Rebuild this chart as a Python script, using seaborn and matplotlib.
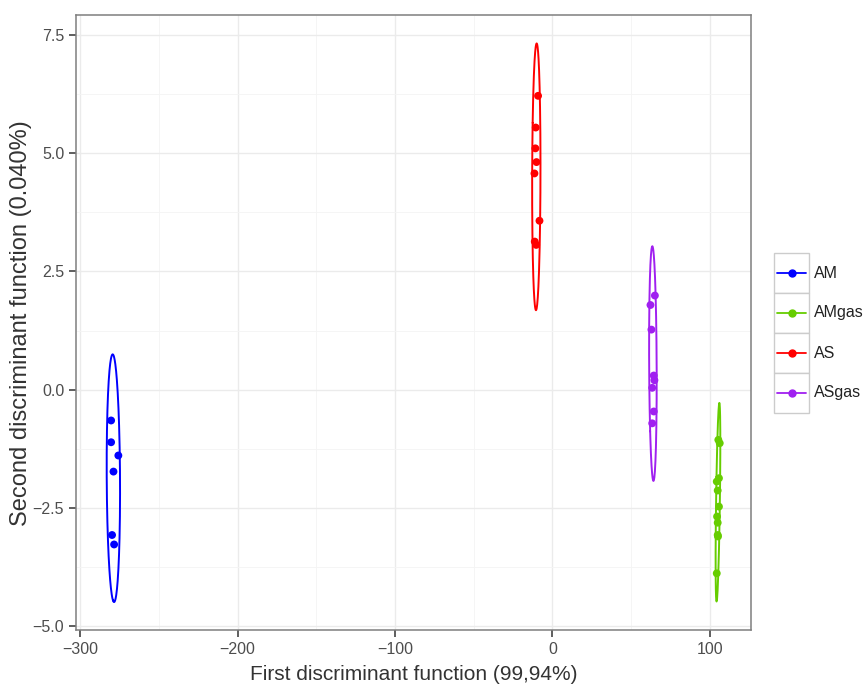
import numpy as np
import pandas as pd
import matplotlib
matplotlib.use("Agg")
import matplotlib.pyplot as plt
from matplotlib.patches import Rectangle
from matplotlib.ticker import MultipleLocator, FuncFormatter
import seaborn as sns

# Group labels and the scores
groups = ["AM", "AMgas", "AS", "ASgas"]
colors = ["#0000FF", "#66CD00", "#FF0000", "#A020F0"]

am_x = [-280.3, -280.3, -275.7, -278.8, -279.7, -278.4]
am_y = [-0.65, -1.11, -1.39, -1.73, -3.07, -3.27]
amgas_x = [105.4, 106.3, 104.4, 105.8, 105.0, 105.8, 104.6, 105.0, 105.0, 105.2, 104.4]
amgas_y = [-1.06, -1.13, -1.94, -1.87, -2.13, -2.47, -2.68, -2.81, -3.07, -3.10, -3.88]
as_x = [-9.1, -10.6, -10.8, -10.1, -11.4, -8.2, -11.2, -10.3]
as_y = [6.21, 5.54, 5.10, 4.81, 4.57, 3.57, 3.13, 3.06]
asgas_x = [65.1, 62.3, 62.9, 64.4, 64.8, 63.4, 64.4, 63.4]
asgas_y = [1.99, 1.79, 1.27, 0.30, 0.20, 0.04, -0.46, -0.71]

xs = [am_x, amgas_x, as_x, asgas_x]
ys = [am_y, amgas_y, as_y, asgas_y]

x_title = "First discriminant function (99,94%)"
y_title = "Second discriminant function (0.040%)"

df = pd.concat([pd.DataFrame({"LD1": x, "LD2": y, "group": g})
                for g, x, y in zip(groups, xs, ys)], ignore_index=True)
palette = dict(zip(groups, colors))


# 95% normal data ellipse for each group
def ellipse(x, y, level=0.95, n=200):
    pts = np.column_stack([x, y])
    center = pts.mean(axis=0)
    cov = np.cov(pts, rowvar=False)
    r = np.sqrt(-2 * np.log(1 - level))
    vals, vecs = np.linalg.eigh(cov)
    t = np.linspace(0, 2 * np.pi, n)
    circ = np.column_stack([np.cos(t), np.sin(t)]) * np.sqrt(vals) * r
    return circ @ vecs.T + center


ell = []
for g in groups:
    sub = df[df.group == g]
    e = ellipse(sub.LD1.values, sub.LD2.values)
    ell.append(pd.DataFrame({"LD1": e[:, 0], "LD2": e[:, 1], "group": g}))
ell = pd.concat(ell, ignore_index=True)

sns.set_style("white")
plt.rcParams["font.family"] = ["Liberation Sans", "DejaVu Sans"]

fig = plt.figure(figsize=(8.63, 6.91), dpi=100)
ax = fig.add_axes([76 / 863, 1 - 630 / 691, (751 - 76) / 863, (630 - 15.5) / 691])

sns.lineplot(data=ell, x="LD1", y="LD2", hue="group", palette=palette,
             units="group", estimator=None, sort=False, lw=1.4, ax=ax,
             legend=False)
sns.scatterplot(data=df, x="LD1", y="LD2", hue="group", palette=palette,
                s=32, edgecolor="none", ax=ax, legend=False)

ax.margins(0.05)
ax.xaxis.set_major_locator(MultipleLocator(100))
ax.xaxis.set_minor_locator(MultipleLocator(50))
ax.yaxis.set_major_locator(MultipleLocator(2.5))
ax.yaxis.set_minor_locator(MultipleLocator(1.25))
ax.yaxis.set_major_formatter(FuncFormatter(lambda v, p: f"{v:.1f}".replace("-", "\u2212")))
ax.grid(True, which="major", color="#EBEBEB", lw=1.0)
ax.grid(True, which="minor", color="#F4F4F4", lw=0.6)
ax.set_axisbelow(True)
for s in ax.spines.values():
    s.set_color("#7F7F7F")
    s.set_linewidth(1.1)
ax.tick_params(which="major", direction="out", length=5, width=1.1,
               color="#333333", labelsize=11.5, labelcolor="#4D4D4D",
               left=True, bottom=True)
ax.tick_params(which="minor", length=0)
ax.set_xlabel(x_title, fontsize=15, color="#333333", labelpad=6)
ax.set_ylabel(y_title, fontsize=17, color="#333333", labelpad=0.5)

# ggplot-style legend with boxed keys
lax = fig.add_axes([773 / 863, 1 - 414 / 691, 90 / 863, 162 / 691])
lax.set_xlim(0, 90)
lax.set_ylim(162, 0)
lax.axis("off")
kh = 40
for i, g in enumerate(groups):
    y0 = i * kh + 1
    lax.add_patch(Rectangle((1, y0), 35, kh, fc="white",
                            ec="#CCCCCC", lw=1.0, clip_on=False))
    lax.plot([4, 33], [y0 + kh / 2] * 2, color=palette[g], lw=1.3)
    lax.plot([18.5], [y0 + kh / 2], "o", color=palette[g], ms=5)
    lax.text(41, y0 + kh / 2, g, va="center", ha="left", fontsize=11.5,
             color="#222222")

fig.savefig("out.png", dpi=100)
